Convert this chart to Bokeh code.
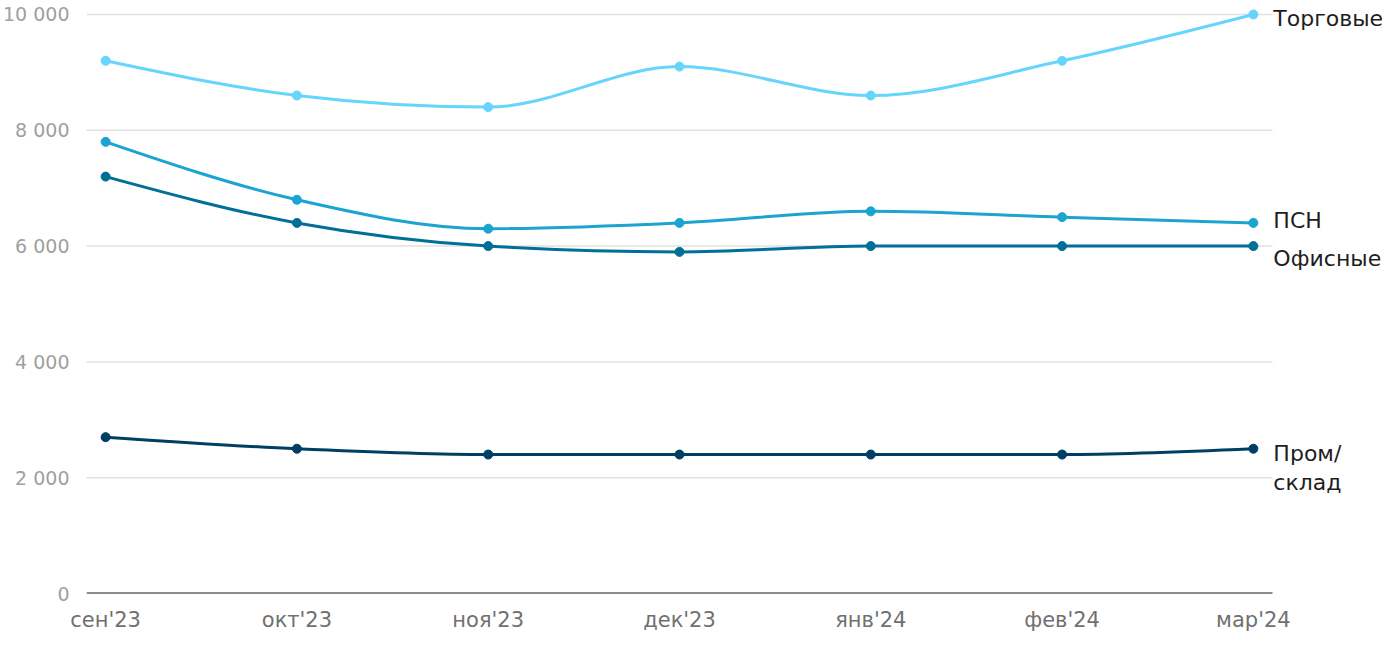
import numpy as np
from bokeh.plotting import figure
from bokeh.models import Range1d, FixedTicker, ColumnDataSource
from bokeh.core.properties import value
from bokeh.embed import file_html
from bokeh.resources import INLINE

months = ["сен'23", "окт'23", "ноя'23", "дек'23", "янв'24", "фев'24", "мар'24"]
torg = [9200, 8600, 8400, 9100, 8600, 9200, 10000]
psn = [7800, 6800, 6300, 6400, 6600, 6500, 6400]
ofis = [7200, 6400, 6000, 5900, 6000, 6000, 6000]
prom = [2700, 2500, 2400, 2400, 2400, 2400, 2500]
y_ticks = [0, 2000, 4000, 6000, 8000, 10000]
y_tick_labels = ["0", "2 000", "4 000", "6 000", "8 000", "10 000"]

series = [
    ("Торговые", torg, "#66d5fb"),
    ("ПСН", psn, "#1ba4d1"),
    ("Офисные", ofis, "#016f97"),
    ("Пром/склад", prom, "#003e63"),
]

FONT = "DejaVu Sans"

W, H = 1384, 634
LEFT, TOP, BOTTOM, RIGHT = 86, 2, 40, 2
frame_w = W - LEFT - RIGHT
frame_h = H - TOP - BOTTOM
x_lo, x_hi_grid = -0.1, 6.1
grid_px = 1186.0
x_hi = x_lo + (x_hi_grid - x_lo) * frame_w / grid_px
y_hi = 10000 * frame_h / 580.0

p = figure(width=W, height=H, output_backend="svg", toolbar_location=None,
           x_range=Range1d(x_lo, x_hi), y_range=Range1d(0, y_hi),
           min_border_left=LEFT, min_border_right=RIGHT,
           min_border_top=TOP, min_border_bottom=BOTTOM)
p.outline_line_color = None
p.background_fill_color = "white"
p.border_fill_color = "white"
p.xgrid.grid_line_color = None
p.ygrid.grid_line_color = None

# gridlines limited to the data area
p.segment(x0=[x_lo] * (len(y_ticks) - 1), x1=[x_hi_grid] * (len(y_ticks) - 1),
          y0=y_ticks[1:], y1=y_ticks[1:], line_color="#e0e0e0", line_width=1.5)
# baseline
p.segment(x0=[x_lo], x1=[x_hi_grid], y0=[0], y1=[0], line_color="#1a1a1a", line_width=2)

p.xaxis.ticker = FixedTicker(ticks=list(range(len(months))))
p.xaxis.major_label_overrides = {i: m for i, m in enumerate(months)}
p.xaxis.axis_line_color = None
p.xaxis.major_tick_line_color = None
p.xaxis.minor_tick_line_color = None
p.xaxis.major_label_text_font = FONT
p.xaxis.major_label_text_font_size = "21px"
p.xaxis.major_label_text_color = "#707070"
p.xaxis.major_label_standoff = 8

p.yaxis.ticker = FixedTicker(ticks=y_ticks)
p.yaxis.major_label_overrides = {t: l for t, l in zip(y_ticks, y_tick_labels)}
p.yaxis.axis_line_color = None
p.yaxis.major_tick_line_color = None
p.yaxis.minor_tick_line_color = None
p.yaxis.major_label_text_font = FONT
p.yaxis.major_label_text_font_size = "19px"
p.yaxis.major_label_text_color = "#a0a0a0"
p.yaxis.major_label_standoff = 11


def monotone_bezier(xs, ys):
    xs = np.asarray(xs, float)
    ys = np.asarray(ys, float)
    n = len(xs)
    h = np.diff(xs)
    s = np.diff(ys) / h
    t = np.zeros(n)
    for i in range(1, n - 1):
        s0, s1 = s[i - 1], s[i]
        pp = (s0 * h[i] + s1 * h[i - 1]) / (h[i - 1] + h[i])
        t[i] = (np.sign(s0) + np.sign(s1)) * min(abs(s0), abs(s1), 0.5 * abs(pp))
    t[0] = (3 * s[0] - t[1]) / 2
    t[-1] = (3 * s[-1] - t[-2]) / 2
    dx = h / 3
    return dict(x0=xs[:-1], y0=ys[:-1], x1=xs[1:], y1=ys[1:],
                cx0=xs[:-1] + dx, cy0=ys[:-1] + dx * t[:-1],
                cx1=xs[1:] - dx, cy1=ys[1:] - dx * t[1:])


x = list(range(len(months)))
for name, vals, col in series:
    b = monotone_bezier(x, vals)
    p.bezier(x0=b["x0"], y0=b["y0"], x1=b["x1"], y1=b["y1"],
             cx0=b["cx0"], cy0=b["cy0"], cx1=b["cx1"], cy1=b["cy1"],
             line_color=col, line_width=3)
    p.scatter(x, vals, size=9, fill_color=col, line_color=col)

# end labels (text glyphs; y_offset in screen pixels, positive = down)
lab_text = ["Торговые", "ПСН", "Офисные", "Пром/", "склад"]
lab_y = [torg[-1], psn[-1], ofis[-1], prom[-1], prom[-1]]
lab_dy = [4, -2, 12, 5, 34]
src = ColumnDataSource(dict(x=[x[-1]] * len(lab_text), y=lab_y, text=lab_text, dy=lab_dy))
p.text(x="x", y="y", text="text", source=src, x_offset=20, y_offset="dy",
       text_font=value(FONT), text_font_size="22px", text_color="#1e1e1e",
       text_baseline="middle", text_align="left")

open("out.html", "w").write(file_html(p, INLINE))
